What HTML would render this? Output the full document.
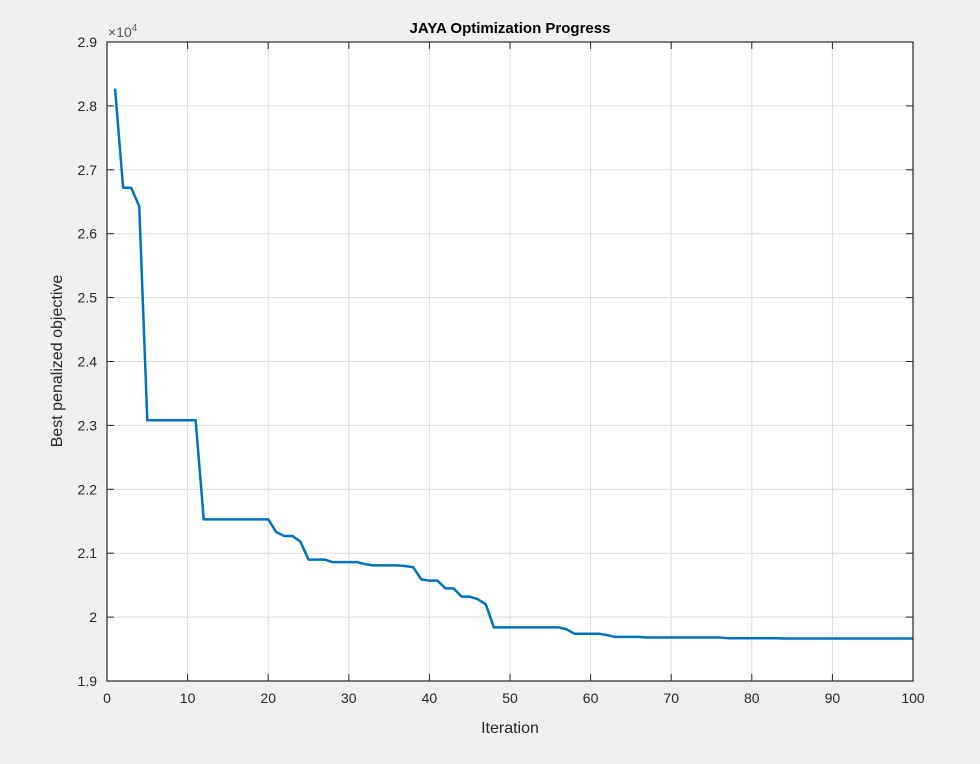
<!DOCTYPE html>
<html><head><meta charset="utf-8"><style>
body{margin:0;background:#f0f0f0;}
svg{display:block;font-family:"Liberation Sans",sans-serif;}
</style></head><body>
<svg id="chart" width="980" height="764">
<rect x="0" y="0" width="980" height="764" fill="#f0f0f0"/>
<rect x="107" y="42" width="806" height="639" fill="#fff"/>
<g id="grid"></g>
<g id="series"></g>
<rect x="107" y="42" width="806" height="639" fill="none" stroke="#262626" stroke-width="1.2"/>
<g id="ticks"></g>
<text x="510" y="33" text-anchor="middle" font-size="15" font-weight="bold" fill="#000">JAYA Optimization Progress</text>
<text x="510" y="733" text-anchor="middle" font-size="16" fill="#262626">Iteration</text>
<text transform="translate(62,361) rotate(-90)" text-anchor="middle" font-size="16" fill="#262626">Best penalized objective</text>
<text x="108" y="37" font-size="14" fill="#555">×10<tspan dy="-6" font-size="10">4</tspan></text>
</svg>
<script>
const xTicks=[0,10,20,30,40,50,60,70,80,90,100];
const yTicks=[1.9,2.0,2.1,2.2,2.3,2.4,2.5,2.6,2.7,2.8,2.9];
const yTickLabels=["1.9","2","2.1","2.2","2.3","2.4","2.5","2.6","2.7","2.8","2.9"];
const iterations=[];for(let i=1;i<=100;i++)iterations.push(i);
const bestValues=[2.827,2.672,2.672,2.643,2.308,2.308,2.308,2.308,2.308,2.308,
2.308,2.153,2.153,2.153,2.153,2.153,2.153,2.153,2.153,2.153,
2.133,2.127,2.127,2.118,2.090,2.090,2.090,2.086,2.086,2.086,
2.086,2.083,2.081,2.081,2.081,2.081,2.080,2.078,2.059,2.057,
2.057,2.045,2.045,2.032,2.032,2.028,2.020,1.984,1.984,1.984,
1.984,1.984,1.984,1.984,1.984,1.984,1.981,1.974,1.974,1.974,
1.974,1.972,1.969,1.969,1.969,1.969,1.968,1.968,1.968,1.968,
1.968,1.968,1.968,1.968,1.968,1.968,1.967,1.967,1.967,1.967,
1.967,1.967,1.967,1.9665,1.9665,1.9665,1.9665,1.9665,1.9665,1.9665,
1.9665,1.9665,1.9665,1.9665,1.9665,1.9665,1.9665,1.9665,1.9665,1.9665];
const NS="http://www.w3.org/2000/svg";
const L=107,R=913,T=42,B=681;
const xs=v=>L+(v-0)/(100-0)*(R-L);
const ys=v=>B-(v-1.9)/(2.9-1.9)*(B-T);
const grid=document.getElementById('grid'),ticks=document.getElementById('ticks'),series=document.getElementById('series');
function mk(tag,attrs,parent){const e=document.createElementNS(NS,tag);for(const k in attrs)e.setAttribute(k,attrs[k]);parent.appendChild(e);return e;}
xTicks.forEach(t=>{const x=xs(t);
 const g=mk('line',{x1:x,x2:x,y1:T,y2:B,stroke:'#dcdcdc','stroke-width':1},grid);
 
 
 mk('line',{x1:x,x2:x,y1:B,y2:B-7,stroke:'#262626'},ticks);
 mk('line',{x1:x,x2:x,y1:T,y2:T+7,stroke:'#262626'},ticks);
 const tx=mk('text',{x:x,y:B+22,'text-anchor':'middle','font-size':14,fill:'#262626'},ticks);
 tx.textContent=t;
 
 
});
yTicks.forEach((t,i)=>{const y=ys(t);
 const g=mk('line',{x1:L,x2:R,y1:y,y2:y,stroke:'#dcdcdc','stroke-width':1},grid);
 
 
 mk('line',{x1:L,x2:L+7,y1:y,y2:y,stroke:'#262626'},ticks);
 mk('line',{x1:R,x2:R-7,y1:y,y2:y,stroke:'#262626'},ticks);
 const tx=mk('text',{x:L-10,y:y+5,'text-anchor':'end','font-size':14,fill:'#262626'},ticks);
 tx.textContent=yTickLabels[i];
 
 
});
const pts=iterations.map((it,i)=>xs(it).toFixed(2)+','+ys(bestValues[i]).toFixed(2)).join(' ');
const line=mk('polyline',{points:pts,fill:'none',stroke:'#0072bd','stroke-width':2.5,'stroke-linejoin':'round'},series);


</script>
</body></html>
